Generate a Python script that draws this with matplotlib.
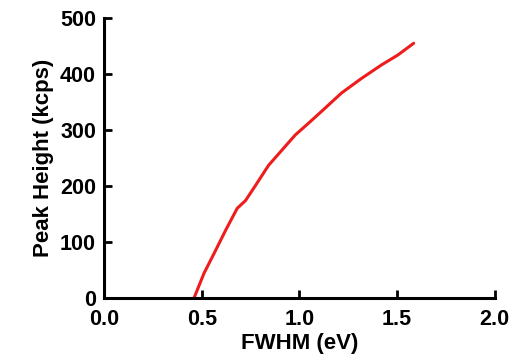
import matplotlib
matplotlib.use("Agg")
from matplotlib import pyplot as plt

# curve
fwhm = [0.46, 0.466, 0.511, 0.562, 0.622, 0.681, 0.724, 0.775, 0.842, 0.910,
        0.978, 1.046, 1.131, 1.215, 1.317, 1.419, 1.504, 1.585]
peak = [0, 5, 44, 79, 121, 160, 174, 201, 237, 264,
        291, 312, 339, 366, 392, 416, 434, 455]

xticks = [0.0, 0.5, 1.0, 1.5, 2.0]
yticks = [0, 100, 200, 300, 400, 500]

plt.rcParams['font.family'] = ['Liberation Sans', 'DejaVu Sans']
plt.rcParams['font.weight'] = 'bold'

fig = plt.figure(figsize=(5.24, 3.55), dpi=100)
ax = fig.add_axes([0.199, 0.161, 0.745, 0.788])

ax.plot(fwhm, peak, color="#ee1c1c", linewidth=2.2, solid_capstyle="round",
        solid_joinstyle="round")

ax.set_xlim(0, 2.0)
ax.set_ylim(0, 500)
ax.set_xticks(xticks)
ax.set_yticks(yticks)
ax.set_xticklabels(["%.1f" % v for v in xticks])
ax.set_yticklabels([str(v) for v in yticks])

for side in ["top", "right"]:
    ax.spines[side].set_visible(False)
for side in ["left", "bottom"]:
    ax.spines[side].set_linewidth(2.2)

ax.tick_params(direction="in", length=6, width=2, labelsize=15.5)
ax.tick_params(axis="x", pad=8)
ax.tick_params(axis="y", pad=6)
ax.set_xlabel("FWHM (eV)", fontsize=16, fontweight="bold", labelpad=2)
ax.set_ylabel("Peak Height (kcps)", fontsize=16, fontweight="bold", labelpad=4)

fig.savefig("out.png", dpi=100)
